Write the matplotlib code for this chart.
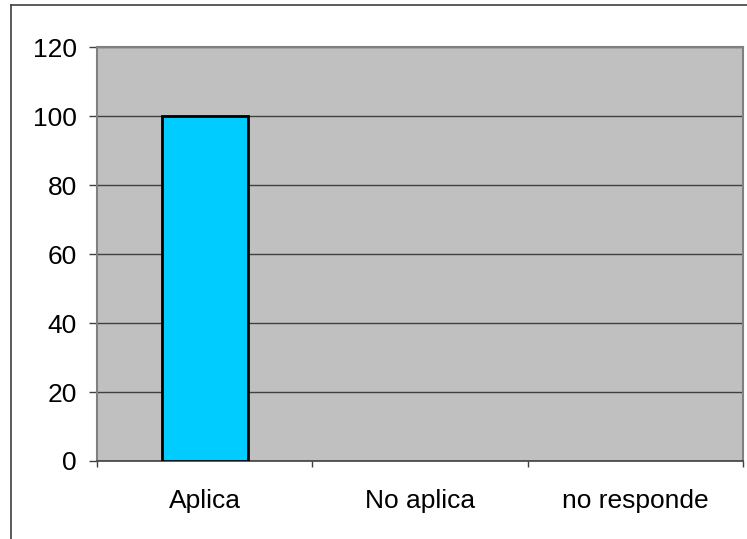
import matplotlib
matplotlib.use("Agg")
import matplotlib.pyplot as plt
from matplotlib.lines import Line2D

categories = ["Aplica", "No aplica", "no responde"]
values = [100, 0, 0]
y_ticks = [0, 20, 40, 60, 80, 100, 120]

plt.rcParams['font.family'] = ['Liberation Sans', 'DejaVu Sans']

fig = plt.figure(figsize=(7.47, 5.39), dpi=100)
fig.patch.set_facecolor("white")

# outer chart frame (left and top edges)
fig.add_artist(Line2D([11/747, 11/747], [0, 1 - 5/539], color="#404040", lw=1.2))
fig.add_artist(Line2D([11/747, 1], [1 - 5/539, 1 - 5/539], color="#404040", lw=1.2))

L, R, T, B = 97, 743, 47, 461
ax = fig.add_axes([L/747, 1 - B/539, (R - L)/747, (B - T)/539])
ax.set_facecolor("#c0c0c0")

x = list(range(len(categories)))
ax.bar(x, values, width=0.4, color="#00ccff", edgecolor="black",
       linewidth=[2 if v > 0 else 0 for v in values], zorder=3)

ax.set_xlim(-0.5, len(categories) - 0.5)
ax.set_ylim(0, 120)
ax.set_yticks(y_ticks)
ax.set_yticklabels([str(v) for v in y_ticks], fontsize=19)
ax.yaxis.grid(True, color="#404040", linewidth=1.0, zorder=1)
ax.set_axisbelow(True)

ax.set_xticks(x)
ax.set_xticklabels(categories, fontsize=19)
ax.tick_params(axis="x", length=0, pad=20)
ax.tick_params(axis="y", length=6, width=1, color="#404040", pad=8.5)

# category boundary ticks on the x axis
ax.set_xticks([-0.5, 0.5, 1.5, 2.5], minor=True)
ax.tick_params(axis="x", which="minor", length=4, width=1, color="#404040")

for side in ["left", "top", "right"]:
    ax.spines[side].set_color("#808080")
    ax.spines[side].set_linewidth(1.5)
ax.spines["bottom"].set_color("#404040")
ax.spines["bottom"].set_linewidth(1.2)

fig.savefig("out.png", dpi=100)
